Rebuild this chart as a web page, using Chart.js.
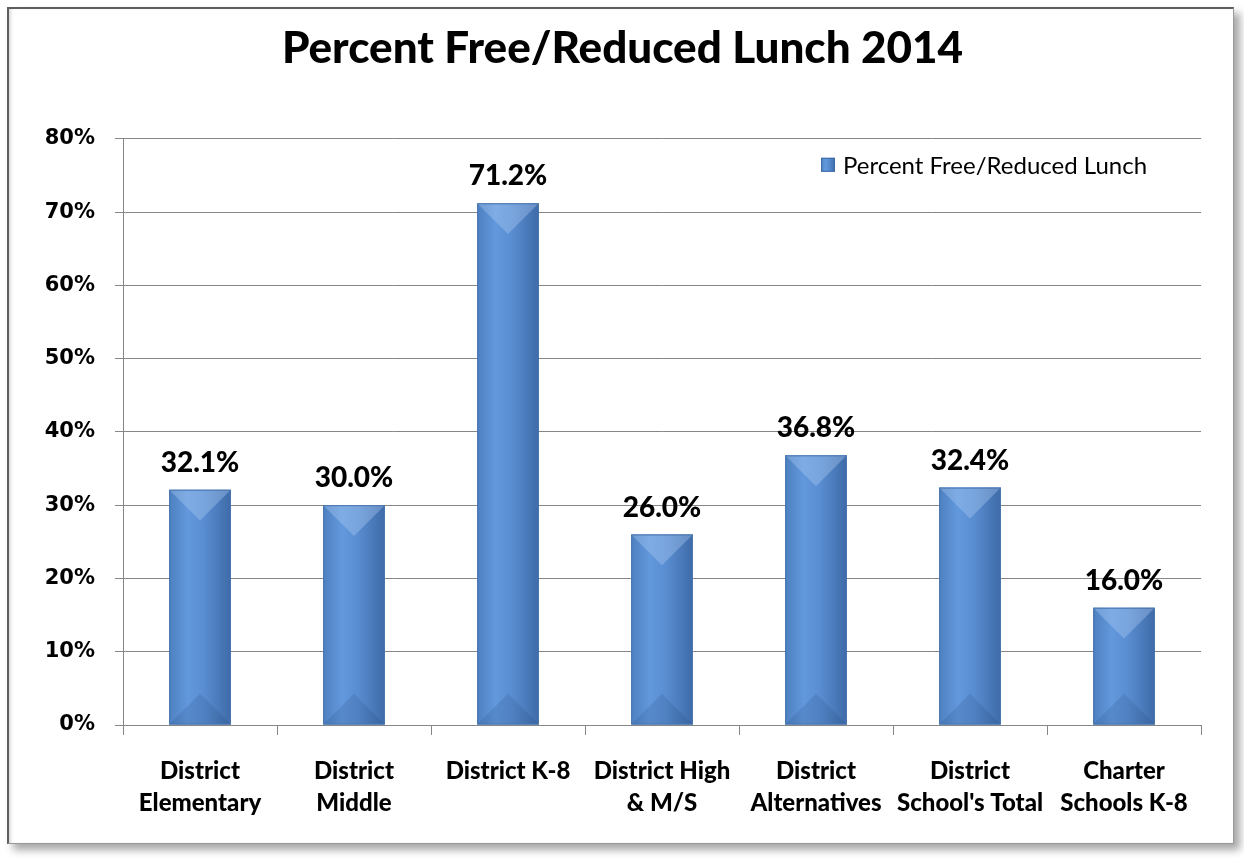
<!DOCTYPE html>
<html>
<head>
<meta charset="utf-8">
<script src="https://cdn.jsdelivr.net/npm/chart.js@4.4.1/dist/chart.umd.min.js"></script>
<style>
  html, body { margin: 0; padding: 0; background: #ffffff; }
  body { width: 1244px; height: 858px; position: relative; overflow: hidden; }
  #frame {
    position: absolute; left: 7px; top: 7px; width: 1224px; height: 834px;
    border-left: 2px solid #5e5e5e; border-top: 2px solid #5e5e5e;
    border-right: 1px solid #9a9a9a; border-bottom: 1px solid #9a9a9a;
    background: #fff;
    box-shadow: 6px 6px 8px rgba(0,0,0,0.35), inset 3px 0 3px -1px #dcdcdc;
  }
  #wrap { position: absolute; left: 0; top: 0; width: 1224px; height: 834px; }
</style>
</head>
<body>
<div id="frame"><div id="wrap"><canvas id="c"></canvas></div></div>
<script>
const categories = [
  ["District", "Elementary"],
  ["District", "Middle"],
  ["District K-8"],
  ["District High", "& M/S"],
  ["District", "Alternatives"],
  ["District", "School's Total"],
  ["Charter", "Schools K-8"]
];
const seriesName = "Percent Free/Reduced Lunch";
const values = [32.1, 30.0, 71.2, 26.0, 36.8, 32.4, 16.0];
const chartTitle = "Percent Free/Reduced Lunch 2014";
const yTicks = [0, 10, 20, 30, 40, 50, 60, 70, 80];

const HEAD = "Lato, 'Open Sans', sans-serif";
const HEAVY = 900;

function barFill(ctx, l, r) {
  const g = ctx.createLinearGradient(l, 0, r, 0);
  g.addColorStop(0, '#4d80c0');
  g.addColorStop(0.3, '#6298dc');
  g.addColorStop(0.55, '#5a8ed2');
  g.addColorStop(1, '#3e6ba8');
  return g;
}

const barStyle = {
  id: 'barStyle',
  afterDatasetsDraw(chart) {
    const ctx = chart.ctx;
    const meta = chart.getDatasetMeta(0);
    meta.data.forEach((bar, i) => {
      const w = bar.width, l = bar.x - w / 2, r = bar.x + w / 2;
      const t = bar.y, b = bar.base;
      ctx.save();
      ctx.fillStyle = barFill(ctx, l, r);
      ctx.fillRect(l, t, w, b - t);
      const d = Math.min(w * 0.5, (b - t) / 2);
      ctx.beginPath();
      ctx.moveTo(l, t); ctx.lineTo(r, t); ctx.lineTo(bar.x, t + d); ctx.closePath();
      ctx.fillStyle = 'rgba(180,210,245,0.35)';
      ctx.fill();
      ctx.beginPath();
      ctx.moveTo(l, b); ctx.lineTo(r, b); ctx.lineTo(bar.x, b - d); ctx.closePath();
      ctx.fillStyle = 'rgba(30,60,110,0.15)';
      ctx.fill();
      ctx.strokeStyle = '#4a76ad';
      ctx.lineWidth = 1;
      ctx.strokeRect(l + 0.5, t + 0.5, w - 1, b - t - 1);
      ctx.fillStyle = '#000';
      ctx.font = HEAVY + " 28px " + HEAD;
      ctx.textAlign = 'center';
      ctx.textBaseline = 'bottom';
      ctx.fillText(values[i].toFixed(1) + '%', bar.x, t - 13);
      ctx.restore();
    });
    // legend inside plot area, top right
    const ca = chart.chartArea;
    const bx = ca.right - 380, by = ca.top + 19;
    ctx.save();
    ctx.fillStyle = barFill(ctx, bx, bx + 14);
    ctx.fillRect(bx, by, 14, 14);
    ctx.strokeStyle = '#3e6ba8';
    ctx.strokeRect(bx + 0.5, by + 0.5, 13, 13);
    ctx.fillStyle = '#000';
    ctx.font = "24px " + HEAD;
    ctx.textAlign = 'left';
    ctx.textBaseline = 'middle';
    ctx.fillText(chart.data.datasets[0].label, bx + 22, by + 8);
    ctx.restore();
  }
};

new Chart(document.getElementById('c'), {
  type: 'bar',
  data: {
    labels: categories,
    datasets: [{
      label: seriesName,
      data: values,
      backgroundColor: '#5a8ed2',
      borderWidth: 0,
      categoryPercentage: 0.8,
      barPercentage: 0.5
    }]
  },
  options: {
    responsive: true,
    maintainAspectRatio: false,
    animation: false,
    layout: { padding: { left: 35, right: 32, top: 0, bottom: 0 } },
    plugins: {
      title: {
        display: true,
        text: chartTitle,
        color: '#000',
        font: { family: HEAD, size: 44, weight: HEAVY },
        padding: { top: 13, bottom: 64 }
      },
      legend: { display: false },
      tooltip: { enabled: false }
    },
    scales: {
      x: {
        afterFit: (axis) => { axis.height = 118; },
        grid: { offset: true, drawOnChartArea: false, drawTicks: true, tickLength: 10, color: '#868686' },
        border: { color: '#868686' },
        ticks: {
          color: '#000',
          font: { family: HEAD, size: 24, weight: HEAVY, lineHeight: 1.3 },
          maxRotation: 0, autoSkip: false,
          padding: 21
        }
      },
      y: {
        min: 0, max: 80,
        afterBuildTicks: (axis) => { axis.ticks = yTicks.map(v => ({ value: v })); },
        afterFit: (axis) => { axis.width = 79; },
        grid: { color: '#868686', tickLength: 8 },
        border: { color: '#868686' },
        ticks: {
          color: '#000',
          font: { family: "'DejaVu Sans', sans-serif", size: 21, weight: 'bold' },
          padding: 20,
          callback: (v) => v + '%'
        }
      }
    }
  },
  plugins: [barStyle]
});
</script>
</body>
</html>
